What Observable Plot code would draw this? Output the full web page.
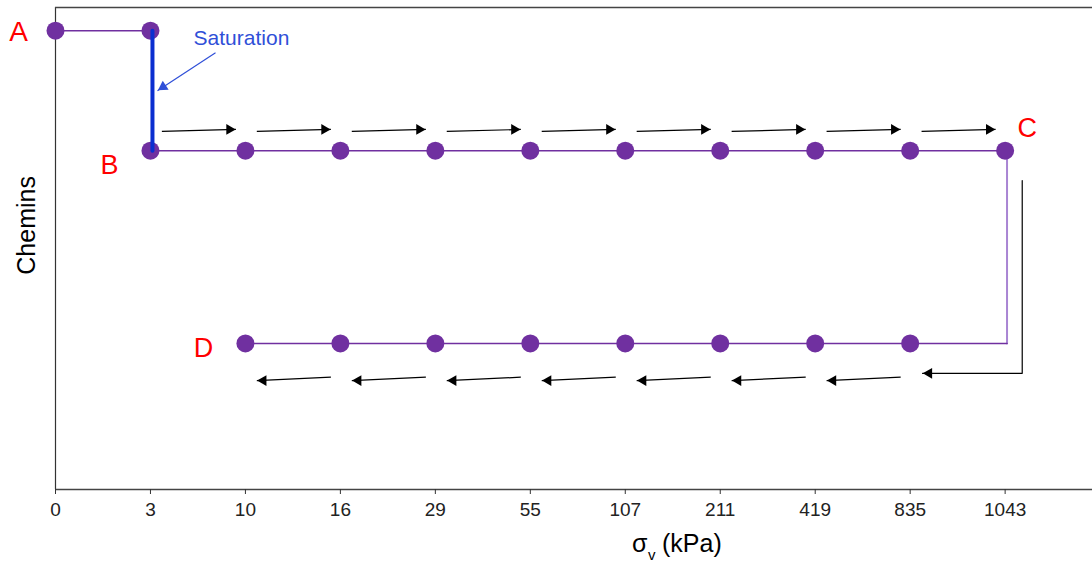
<!DOCTYPE html>
<html><head><meta charset="utf-8">
<script src="https://cdn.jsdelivr.net/npm/d3@7"></script>
<script src="https://cdn.jsdelivr.net/npm/@observablehq/plot@0.6"></script>
<style>body{margin:0;background:#fff} svg{display:block}</style>
</head><body><div id="chart"></div>
<script>
// x categories: vertical stress steps (kPa)
const sigmaLabels = ["0","3","10","16","29","55","107","211","419","835","1043"];
// steps of each path
const pathA = ["0","3"];                                                   // A: before saturation
const pathB = ["3","10","16","29","55","107","211","419","835","1043"];    // B -> C loading
const pathD = ["10","16","29","55","107","211","419","835"];               // unloading to D
// vertical level of each path (arbitrary "Chemins" units)
const levelA = 95.2, levelB = 70.3, levelD = 30.3;

const idx = s => sigmaLabels.indexOf(s);
const purple = "#7030a0";
const font = "'Liberation Sans', Arial, sans-serif";

const ptsA = pathA.map(s => ({x: idx(s), y: levelA}));
const ptsB = pathB.map(s => ({x: idx(s), y: levelB}));
const ptsD = pathD.map(s => ({x: idx(s), y: levelD}));
const xC = idx("1043");

// loading arrows between consecutive B steps
const loadArrows = pathB.slice(0, -1).map(s => ({x1: idx(s) + 0.12, x2: idx(s) + 0.9, y1: levelB + 4.0, y2: levelB + 4.4}));
// unloading arrows between consecutive D steps
const unloadArrows = pathD.slice(0, -1).map(s => ({x1: idx(s) + 0.9, x2: idx(s) + 0.12, y1: levelD - 7.0, y2: levelD - 7.7}));
// L-shaped return arrow from C to D level
const lPath = [
  {x: xC + 0.18, y: levelB - 6.2},
  {x: xC + 0.18, y: levelD - 6.2},
  {x: idx("835") + 0.13, y: levelD - 6.2}
];
// vertical C->D path line, plus D row extension
const cdPath = [{x: xC + 0.02, y: levelB}, {x: xC + 0.02, y: levelD}];
const dRow = [{x: xC + 0.02, y: levelD}, ...ptsD.slice().reverse()];

const midAB = (levelA + levelB) / 2;

const marks = [
  // frame
  Plot.ruleX([0], {y1: 0, y2: 100, stroke: "#333", strokeWidth: 1.2}),
  Plot.ruleY([100], {x1: 0, x2: 10.95, stroke: "#444", strokeWidth: 1.6}),
  Plot.ruleY([0], {x1: 0, x2: 10.95, stroke: "#444", strokeWidth: 1.6}),
  Plot.axisX(d3.range(sigmaLabels.length), {
    tickFormat: i => sigmaLabels[i], tickSize: 5, tickPadding: 8,
    fontSize: 19, stroke: "#333", fill: "#222", label: null
  }),
  // path lines
  Plot.line(ptsA, {x: "x", y: "y", stroke: purple, strokeWidth: 1.5}),
  Plot.line(ptsB.concat([{x: xC + 0.02, y: levelB}]), {x: "x", y: "y", stroke: purple, strokeWidth: 1.5}),
  Plot.line(cdPath, {x: "x", y: "y", stroke: "#a985d3", strokeWidth: 2}),
  Plot.line(dRow, {x: "x", y: "y", stroke: purple, strokeWidth: 1.5}),
  // points
  Plot.dot(ptsA.concat(ptsB, ptsD), {x: "x", y: "y", r: 9, fill: purple}),
  // saturation
  Plot.line([{x: idx("3"), y: levelA}, {x: idx("3"), y: levelB}], {x: "x", y: "y", dx: 2, stroke: "#0a2ed0", strokeWidth: 4}),
  Plot.link([{x1: idx("3") + 0.685, y1: levelA - 4.6, x2: idx("3") + 0.074, y2: midAB}],
    {x1: "x1", y1: "y1", x2: "x2", y2: "y2", stroke: "#2f4fd8", strokeWidth: 1.2}),
  Plot.dot([{x: idx("3") + 0.074, y: midAB}], {x: "x", y: "y", symbol: "triangle", r: 4, rotate: 236.8, dx: 5.6, dy: -3.7, fill: "#2f4fd8"}),
  Plot.text(["Saturation"], {x: idx("3"), y: levelA, dx: 91, dy: 8, fontSize: 21, fill: "#2f4fd8", fontFamily: font}),
  // loading arrows
  Plot.link(loadArrows, {x1: "x1", y1: "y1", x2: "x2", y2: "y2", stroke: "#000", strokeWidth: 1.2}),
  Plot.dot(loadArrows, {x: "x2", y: "y2", symbol: "triangle", r: 4, rotate: 90, dx: -6.5, fill: "#000"}),
  // unloading arrows
  Plot.link(unloadArrows, {x1: "x1", y1: "y1", x2: "x2", y2: "y2", stroke: "#000", strokeWidth: 1.2}),
  Plot.dot(unloadArrows, {x: "x2", y: "y2", symbol: "triangle", r: 4, rotate: -90, dx: 6.5, fill: "#000"}),
  Plot.line(lPath, {x: "x", y: "y", stroke: "#000", strokeWidth: 1.2}),
  Plot.dot([lPath[2]], {x: "x", y: "y", symbol: "triangle", r: 4, rotate: -90, dx: 6.5, fill: "#000"}),
  // point labels
  Plot.text(["A"], {x: idx("0"), y: levelA, dx: -37, dy: 1, fontSize: 28, fill: "#ff0000", fontFamily: font}),
  Plot.text(["B"], {x: idx("3"), y: levelB, dx: -41, dy: 15, fontSize: 27, fill: "#ff0000", fontFamily: font}),
  Plot.text(["C"], {x: xC, y: levelB, dx: 22, dy: -22, fontSize: 27, fill: "#ff0000", fontFamily: font}),
  Plot.text(["D"], {x: idx("10"), y: levelD, dx: -42, dy: 5, fontSize: 27, fill: "#ff0000", fontFamily: font}),
  // axis titles
  Plot.text(["Chemins"], {x: -0.3, y: 54.8, rotate: -90, fontSize: 25, fill: "#000", fontFamily: font}),
  Plot.text(["σ"], {frameAnchor: "bottom", dx: 58, dy: 62, textAnchor: "start", fontSize: 25, fill: "#000", fontFamily: font}),
  Plot.text(["v"], {frameAnchor: "bottom", dx: 74, dy: 70, textAnchor: "start", fontSize: 15, fill: "#000", fontFamily: font}),
  Plot.text(["(kPa)"], {frameAnchor: "bottom", dx: 88, dy: 62, textAnchor: "start", fontSize: 25, fill: "#000", fontFamily: font})
];

const chart = Plot.plot({
  width: 1092, height: 569,
  marginLeft: 55, marginRight: 0, marginTop: 7, marginBottom: 80,
  x: {domain: [0, 10.92], axis: null},
  y: {domain: [0, 100], axis: null},
  style: {fontFamily: font, fontSize: "19px", background: "#fff", overflow: "visible"},
  marks
});
document.getElementById("chart").append(chart);
</script></body></html>
